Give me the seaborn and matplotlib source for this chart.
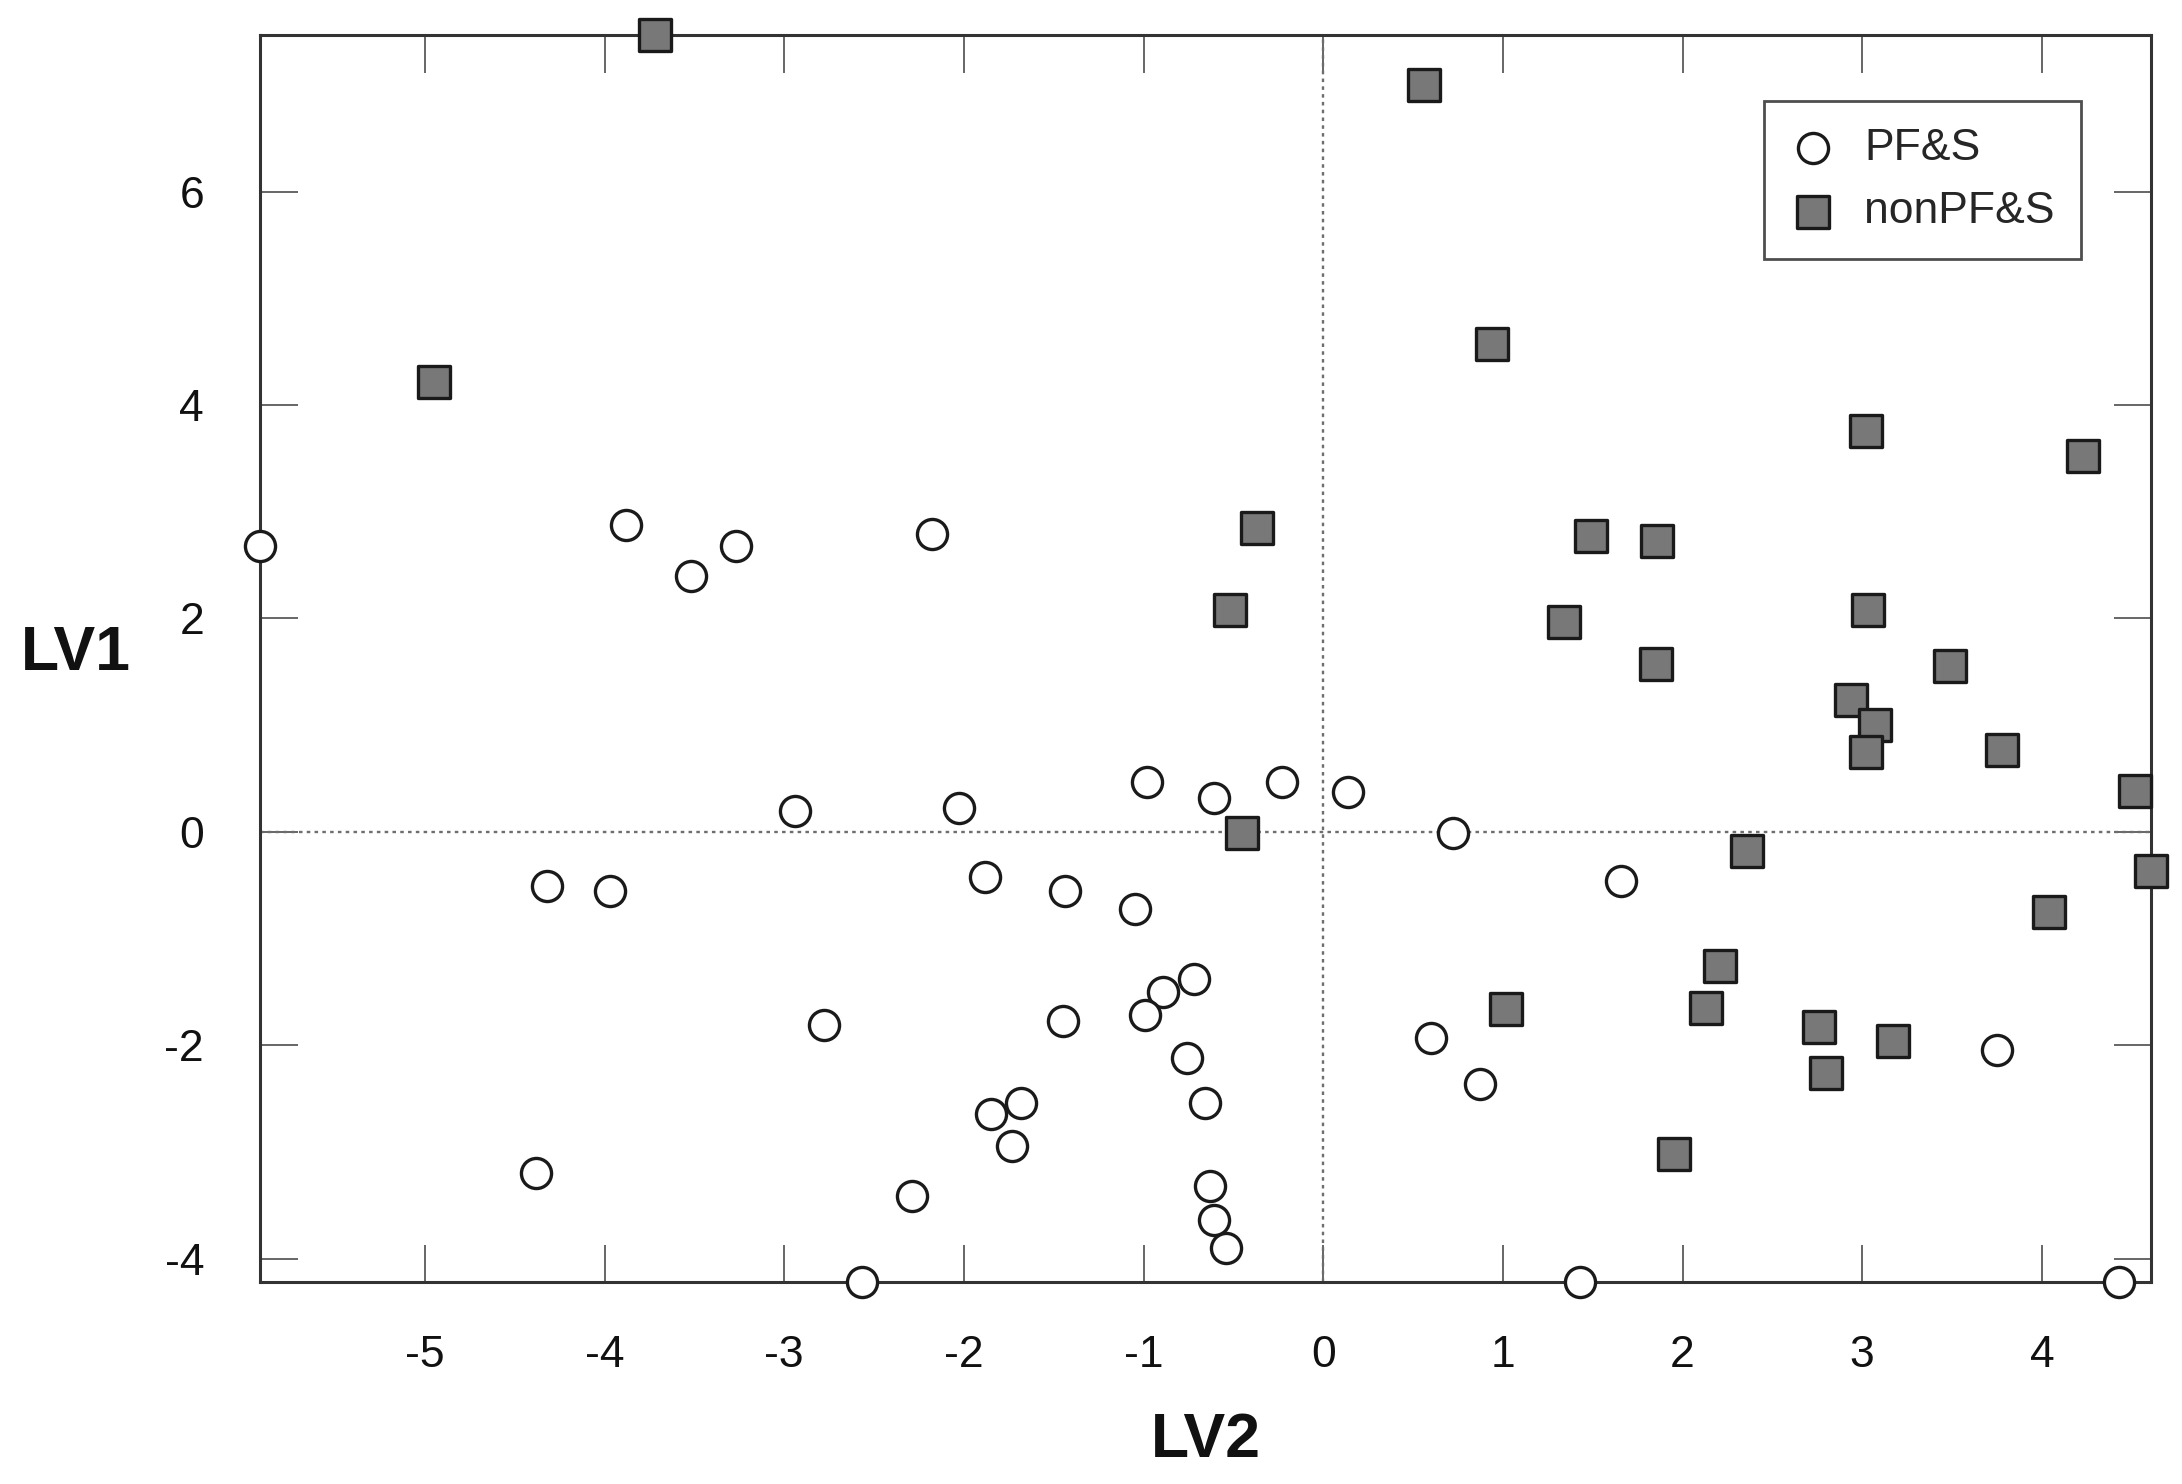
import numpy as np
import pandas as pd
import seaborn as sns
import matplotlib.pyplot as plt

# PF&S samples (LV2, LV1)
pfs_lv2 = [-5.92, -3.88, -3.52, -3.27, -2.18, -2.94, -2.03, -0.98, -0.61, -0.23,
           0.14, 0.72, -4.32, -3.97, -1.88, -1.44, -1.05, 1.66, -2.78, -0.72,
           -0.89, -0.99, -1.45, -0.76, 0.60, 0.87, 3.75, -1.68, -1.85, -0.66,
           -1.73, -4.38, -2.29, -0.63, -0.61, -0.54, -2.57, 1.43, 4.43]
pfs_lv1 = [2.68, 2.88, 2.40, 2.68, 2.79, 0.20, 0.22, 0.47, 0.32, 0.47,
           0.37, -0.01, -0.51, -0.55, -0.42, -0.55, -0.72, -0.46, -1.81, -1.38,
           -1.50, -1.72, -1.77, -2.12, -1.93, -2.36, -2.04, -2.54, -2.64, -2.54,
           -2.94, -3.20, -3.41, -3.32, -3.64, -3.90, -4.22, -4.22, -4.22]

# nonPF&S samples (LV2, LV1)
non_lv2 = [-3.72, 0.56, -4.95, 0.94, 3.02, 4.23, -0.37, -0.52, 1.49, 1.86,
           1.34, 3.03, 1.85, 3.49, 2.94, 3.07, 3.02, 3.78, 4.52, 4.61,
           -0.45, 2.36, 4.04, 2.21, 2.13, 1.02, 2.76, 3.17, 2.80, 1.95]
non_lv1 = [7.47, 7.00, 4.22, 4.57, 3.76, 3.52, 2.85, 2.08, 2.77, 2.73,
           1.97, 2.08, 1.57, 1.55, 1.24, 1.00, 0.75, 0.77, 0.38, -0.37,
           -0.01, -0.18, -0.75, -1.26, -1.65, -1.66, -1.83, -1.96, -2.26, -3.02]

xticks = [-5, -4, -3, -2, -1, 0, 1, 2, 3, 4]
yticks = [-4, -2, 0, 2, 4, 6]

df_pfs = pd.DataFrame({'LV2': pfs_lv2, 'LV1': pfs_lv1})
df_non = pd.DataFrame({'LV2': non_lv2, 'LV1': non_lv1})

sns.set_style('white')
plt.rcParams['font.family'] = ['Liberation Sans', 'DejaVu Sans']
plt.rcParams['axes.unicode_minus'] = False

fig = plt.figure(figsize=(21.82, 14.84), dpi=100)
ax = fig.add_axes([0.119, 0.136, 0.867, 0.8406])

# dotted reference lines
ax.axhline(0, color='#6e6e6e', lw=1.7, ls=(0, (1.5, 1.8)), zorder=1)
ax.axvline(0, color='#6e6e6e', lw=1.7, ls=(0, (1.5, 1.8)), zorder=1)

sns.scatterplot(data=df_pfs, x='LV2', y='LV1', ax=ax, marker='o', s=470,
                color='white', edgecolor='#1a1a1a', linewidth=2.4,
                label='PF&S', zorder=4)
sns.scatterplot(data=df_non, x='LV2', y='LV1', ax=ax, marker='s', s=530,
                color='#787878', edgecolor='#1a1a1a', linewidth=2.4,
                label='nonPF&S', zorder=4)
for c in ax.collections:
    c.set_clip_on(False)

ax.set_xlim(-5.92, 4.61)
ax.set_ylim(-4.22, 7.47)
ax.set_xticks(xticks)
ax.set_yticks(yticks)

for sp in ax.spines.values():
    sp.set_visible(True)
    sp.set_color('#333333')
    sp.set_linewidth(2.2)

ax.tick_params(axis='both', direction='in', length=27, width=1.4,
               color='#666666', labelsize=32, labelcolor='#111111')
ax.tick_params(axis='x', top=True, bottom=True, pad=38)
ax.tick_params(axis='y', left=True, right=True, pad=40)

ax.set_xlabel('LV2', fontsize=45, fontweight='bold', color='#111111', va='center')
ax.set_ylabel('LV1', fontsize=45, fontweight='bold', color='#111111', rotation=0,
              va='center')
ax.xaxis.set_label_coords(0.5, -0.127)
ax.yaxis.set_label_coords(-0.097, 0.504)

leg = ax.legend(loc='upper right', bbox_to_anchor=(0.963, 0.9466), borderaxespad=0,
                fontsize=32, frameon=True, fancybox=False, handletextpad=0.65,
                borderpad=0.6, labelspacing=0.5, handlelength=1.0)
leg.get_frame().set_edgecolor('#222222')
leg.get_frame().set_linewidth(2.0)

fig.savefig('out.png', dpi=100)
